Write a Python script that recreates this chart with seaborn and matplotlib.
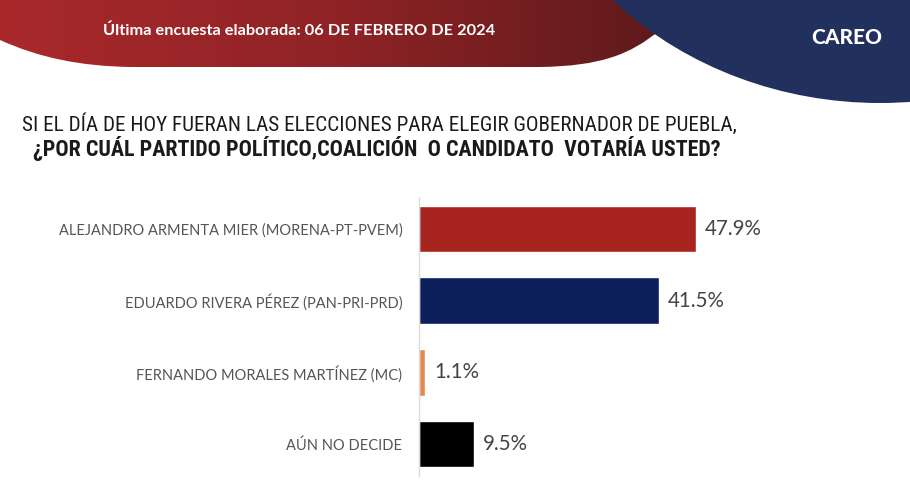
"""Poll chart: vote intention for governor of Puebla (CAREO, Feb 2024)."""

import matplotlib

matplotlib.use("Agg")
import matplotlib.pyplot as plt
import numpy as np
import seaborn as sns
from matplotlib import font_manager
from matplotlib.patches import Ellipse, PathPatch
from matplotlib.path import Path

CANDIDATES = [
    "ALEJANDRO ARMENTA MIER (MORENA-PT-PVEM)",
    "EDUARDO RIVERA PÉREZ (PAN-PRI-PRD)",
    "FERNANDO MORALES MARTÍNEZ (MC)",
    "AÚN NO DECIDE",
]
VOTES = [47.9, 41.5, 1.1, 9.5]
BAR_COLORS = ["#a8241e", "#0c1f5a", "#e08a4f", "#000000"]

HEADER = "Última encuesta elaborada: 06 DE FEBRERO DE 2024"
BRAND = "CAREO"
TITLE_1 = "SI EL DÍA DE HOY FUERAN LAS ELECCIONES PARA ELEGIR GOBERNADOR DE PUEBLA,"
TITLE_2 = "¿POR CUÁL PARTIDO POLÍTICO,COALICIÓN  O CANDIDATO  VOTARÍA USTED?"


def pick_font(names, fallback="DejaVu Sans"):
    have = {f.name for f in font_manager.fontManager.ttflist}
    for n in names:
        if n in have:
            return n
    return fallback


sns.set_theme(style="white")
plt.rcParams["font.family"] = ["Lato", "DejaVu Sans"]

COND = pick_font(["Roboto Condensed", "Liberation Sans Narrow",
                  "DejaVu Sans Condensed", "Roboto"])

W, H = 910, 480
fig = plt.figure(figsize=(W / 100, H / 100), dpi=100)

# --- decorative header (pixel coordinates, y down) ---
bg = fig.add_axes([0, 0, 1, 1], zorder=0)
bg.set_xlim(0, W)
bg.set_ylim(H, 0)
bg.axis("off")

verts = [(0, 0), (0, 40),
         (40, 58), (80, 66), (130, 67),
         (540, 67),
         (600, 66), (630, 55), (660, 30),
         (660, 0), (0, 0)]
codes = [Path.MOVETO, Path.LINETO,
         Path.CURVE4, Path.CURVE4, Path.CURVE4,
         Path.LINETO,
         Path.CURVE4, Path.CURVE4, Path.CURVE4,
         Path.LINETO, Path.CLOSEPOLY]
red_patch = PathPatch(Path(verts, codes), facecolor="none", edgecolor="none")
bg.add_patch(red_patch)
grad = np.linspace(0, 1, 256)[None, :]
red_cmap = matplotlib.colors.LinearSegmentedColormap.from_list(
    "hdr", ["#a9292b", "#8f2326", "#5e1a1b"])
img = bg.imshow(grad, cmap=red_cmap, extent=[0, 670, 80, 0], aspect="auto")
img.set_clip_path(red_patch)
bg.set_xlim(0, W)
bg.set_ylim(H, 0)

bg.add_patch(Ellipse((880, -230), 740, 666, facecolor="#22305d", edgecolor="none"))

bg.text(103, 31, HEADER, color="white", fontsize=11.8, fontweight="bold",
        ha="left", va="center")
bg.text(882, 37, BRAND, color="white", fontsize=15, fontweight="black",
        ha="right", va="center")

bg.text(22, 131, TITLE_1, color="#1a1a1a", fontsize=15.2, family=COND,
        ha="left", va="baseline")
bg.text(33, 156, TITLE_2, color="#1a1a1a", fontsize=15.8, family=COND,
        fontweight="bold", ha="left", va="baseline")

# --- bar chart ---
ax = fig.add_axes([419 / W, 0, (881 - 419) / W, 287 / H], zorder=1)
ax.patch.set_alpha(0)
sns.barplot(x=VOTES, y=CANDIDATES, hue=CANDIDATES, palette=BAR_COLORS,
            legend=False, width=0.65, orient="h", saturation=1, ax=ax)
ax.set_xlim(0, 80)
ax.set_ylim(3.5, -0.5)
ax.set_xticks([])
ax.set_xlabel("")
ax.set_ylabel("")
for s in ["top", "right", "bottom"]:
    ax.spines[s].set_visible(False)
ax.spines["left"].set_color("#dcdcdc")
ax.spines["left"].set_linewidth(1)
ax.spines["left"].set_bounds(3.45, -0.45)
ax.tick_params(axis="y", length=0, pad=12, labelsize=10.5, labelcolor="#555555")

for i, v in enumerate(VOTES):
    ax.text(v + 1.6, i, f"{v:.1f}%", color="#444444", fontsize=14.8,
            ha="left", va="center")

fig.savefig("out.png", dpi=100)
